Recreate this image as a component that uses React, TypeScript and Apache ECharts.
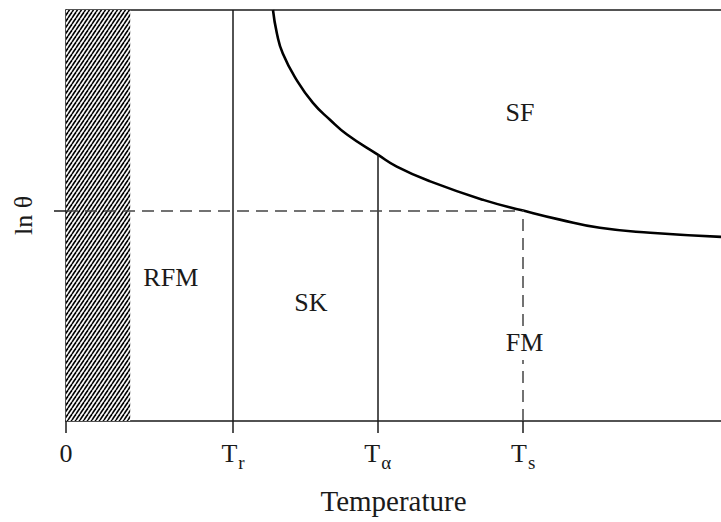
import React, { useEffect, useRef } from 'react';
import * as echarts from 'echarts';

// Boundary curve between SF and the lower phases (temperature, ln θ)
const curveT = [31.6, 32.2, 33.1, 35.2, 37.7, 40.3, 42.9, 47.6, 50.5, 55.6, 63.7, 69.8, 75.4, 81.5, 89.2, 100];
const curveLnTheta = [100, 94.3, 89.4, 83.0, 77.4, 73.3, 69.7, 64.8, 61.9, 58.3, 53.8, 51.2, 49.0, 47.0, 45.8, 44.8];

// Characteristic temperatures and the marked ln θ level
const tR = 25.5;
const tAlpha = 47.6;
const tS = 69.8;
const lnThetaLevel = 51.2;
const hatchEnd = 9.8;

// x-axis ticks: 0, Tr, Tα, Ts
const tickValues = [0, tR, tAlpha, tS];
const tickSubscripts = ['', 'r', 'α', 's'];

// Phase region labels
const regionNames = ['SF', 'RFM', 'SK', 'FM'];
const regionT = [69.3, 16.0, 37.4, 70.0];
const regionLnTheta = [75.1, 35.0, 28.9, 19.0];

const FONT = '"Liberation Serif", "Times New Roman", serif';
const INK = '#1a1a1a';

function makeHatch(): HTMLCanvasElement {
  const w = 4;
  const h = 6;
  const c = document.createElement('canvas');
  c.width = w;
  c.height = h;
  const ctx = c.getContext('2d')!;
  ctx.fillStyle = '#fff';
  ctx.fillRect(0, 0, w, h);
  ctx.strokeStyle = '#000';
  ctx.lineWidth = 1.6;
  for (let k = -1; k <= 1; k++) {
    ctx.beginPath();
    ctx.moveTo(k * w, h);
    ctx.lineTo(k * w + w, 0);
    ctx.stroke();
  }
  return c;
}

export default function App() {
  const ref = useRef<HTMLDivElement>(null);

  useEffect(() => {
    if (!ref.current) return;
    const chart = echarts.init(ref.current, null, { renderer: 'svg' });
    const hatch = makeHatch();

    const lineStyle = { color: INK, width: 1.5, type: 'solid' as const };
    const dashed = { color: '#444', width: 1.5, type: [12, 7] as number[] };

    chart.setOption({
      animation: false,
      grid: { left: 66, right: 0, top: 10, bottom: 101 },
      xAxis: [
        {
          type: 'value',
          min: 0,
          max: 100,
          position: 'bottom',
          axisLine: { show: true, onZero: false, lineStyle },
          axisTick: { show: true, customValues: tickValues, length: 12, lineStyle },
          axisLabel: {
            customValues: tickValues,
            margin: 19,
            formatter: (v: number) => {
              let idx = 0;
              tickValues.forEach((t, i) => {
                if (Math.abs(t - v) < Math.abs(tickValues[idx] - v)) idx = i;
              });
              if (idx === 0) return '{t|0}';
              return '{t|T}{s|' + tickSubscripts[idx] + '}';
            },
            rich: {
              t: { fontFamily: FONT, fontSize: 26, color: INK, lineHeight: 26, verticalAlign: 'top' },
              s: { fontFamily: FONT, fontSize: 19, color: INK, lineHeight: 19, verticalAlign: 'top', padding: [13, 0, 0, 1] },
            },
          },
          splitLine: { show: false },
          name: 'Temperature',
          nameLocation: 'middle',
          nameGap: 65,
          nameTextStyle: { fontFamily: FONT, fontSize: 29, color: INK },
        },
        {
          type: 'value',
          min: 0,
          max: 100,
          position: 'top',
          axisLine: { show: true, onZero: false, lineStyle },
          axisTick: { show: false },
          axisLabel: { show: false },
          splitLine: { show: false },
        },
      ],
      yAxis: {
        type: 'value',
        min: 0,
        max: 100,
        axisLine: { show: true, onZero: false, lineStyle },
        axisTick: { show: true, customValues: [lnThetaLevel], length: 12, lineStyle },
        axisLabel: { show: false },
        splitLine: { show: false },
        name: 'ln θ',
        nameLocation: 'middle',
        nameRotate: 90,
        nameGap: 30,
        nameTextStyle: { fontFamily: FONT, fontSize: 26, color: INK },
      },
      series: [
        {
          type: 'line',
          xAxisIndex: 0,
          data: curveT.map((t, i) => [t, curveLnTheta[i]]),
          smooth: 0.5,
          showSymbol: false,
          clip: true,
          lineStyle: { color: '#000', width: 2.6 },
          markArea: {
            silent: true,
            itemStyle: { color: { image: hatch, repeat: 'repeat' } as any, opacity: 1 },
            data: [[{ xAxis: 0 }, { xAxis: hatchEnd }]],
          },
          markLine: {
            silent: true,
            symbol: 'none',
            label: { show: false },
            lineStyle,
            data: [
              [{ coord: [tR, 0], lineStyle }, { coord: [tR, 100] }],
              [{ coord: [tAlpha, 0], lineStyle }, { coord: [tAlpha, curveLnTheta[curveT.indexOf(tAlpha)]] }],
              [{ coord: [tS, 0], lineStyle: dashed }, { coord: [tS, lnThetaLevel] }],
              [{ coord: [0, lnThetaLevel], lineStyle: dashed }, { coord: [tS, lnThetaLevel] }],
            ],
          },
        },
        {
          type: 'scatter',
          z: 10,
          symbolSize: 0,
          silent: true,
          itemStyle: { opacity: 1 },
          data: regionNames.map((n, i) => ({
            name: n,
            value: [regionT[i], regionLnTheta[i]],
            // white knock-out behind FM so it interrupts the dashed Ts line
            label: n === 'FM' ? { backgroundColor: '#fff', padding: [4, 2] } : undefined,
          })),
          label: {
            show: true,
            position: 'inside',
            formatter: '{b}',
            fontFamily: FONT,
            fontSize: 26,
            color: INK,
            opacity: 1,
            textBorderWidth: 0,
          },
          labelLayout: { hideOverlap: false },
        },
      ],
    });

    return () => chart.dispose();
  }, []);

  return (
    <div
      ref={ref}
      style={{ position: 'fixed', left: 0, top: 0, width: 721, height: 522, background: '#fff' }}
    />
  );
}
